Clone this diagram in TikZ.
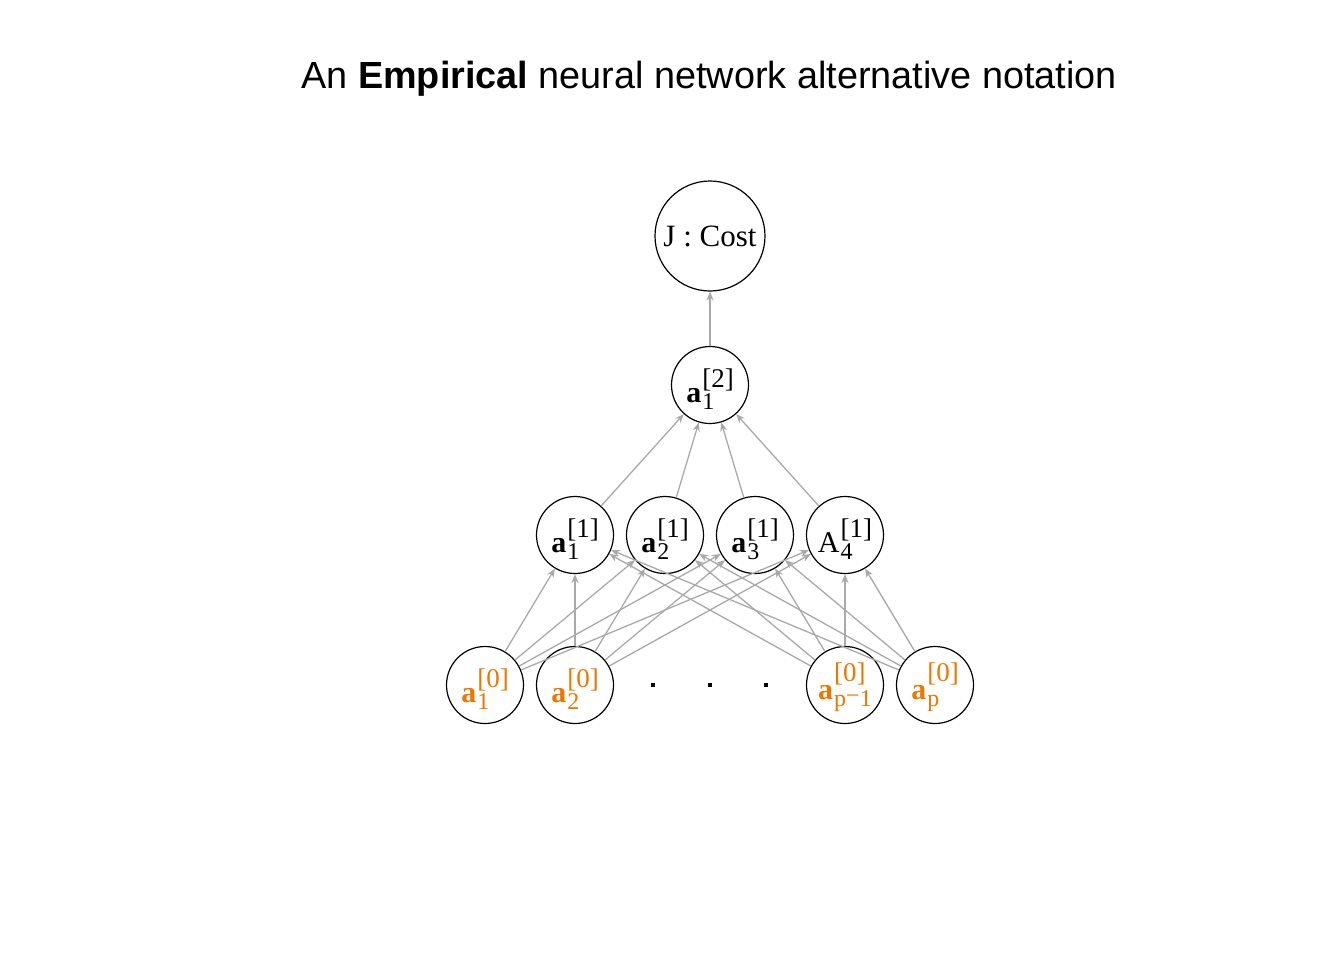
\documentclass[tikz,border=0pt]{standalone}
\usepackage{fontspec}
\setmainfont{Liberation Serif}
\newfontfamily\titlefont{Liberation Sans}
\usetikzlibrary{arrows.meta}
\definecolor{inorange}{RGB}{238,118,0}
\definecolor{edgegray}{RGB}{169,169,169}
% #1 base shift, #2 sup raise, #3 main, #4 sup, #5 sub
\newcommand{\genlab}[5]{\raisebox{#1}[18pt][1pt]{#3\kern0.5pt\vtop{\baselineskip0pt\lineskiplimit-\maxdimen\lineskip0pt\ialign{##\hfil\crcr\raisebox{#2}{\fontsize{13.5}{15}\selectfont #4}\crcr\raisebox{-3.5pt}{\fontsize{12}{14}\selectfont #5}\crcr}}}}
\newcommand{\nlab}[3]{\genlab{0pt}{7.5pt}{#1}{#2}{#3}}
\newcommand{\nlabp}[3]{\genlab{1.5pt}{9pt}{#1}{#2}{#3}}
\begin{document}
\begin{tikzpicture}[x=0.5pt,y=-0.5pt,
  neuron/.style={circle,draw=black,line width=0.6pt,minimum size=38.5pt,inner sep=0pt,font=\fontsize{15}{17}\selectfont},
  costnode/.style={circle,draw=black,line width=0.6pt,minimum size=55pt,inner sep=0pt,font=\fontsize{15.5}{17}\selectfont},
  inneuron/.style={neuron,text=inorange},
  edge/.style={draw=edgegray,line width=0.65pt,-{Stealth[length=4.5pt,width=3.6pt]}},
  dotmark/.style={rectangle,fill=black,inner sep=0pt,minimum size=2pt}]
\useasboundingbox (0,0) rectangle (1344,960);
\node[anchor=base,font=\titlefont\fontsize{18.9}{21}\selectfont] (title) at (709,88) {An \textbf{Empirical} neural network alternative notation};
% nodes
\node[costnode] (J) at (710,236) {\raisebox{-2pt}{J : Cost}};
\node[neuron] (o) at (710,385) {\nlab{\textbf{a}}{[2]}{1}};
\node[neuron] (h1) at (575,535) {\nlab{\textbf{a}}{[1]}{1}};
\node[neuron] (h2) at (665,535) {\nlab{\textbf{a}}{[1]}{2}};
\node[neuron] (h3) at (755,535) {\nlab{\textbf{a}}{[1]}{3}};
\node[neuron] (h4) at (845,535) {\nlab{A}{[1]}{4}};
\node[inneuron] (i1) at (485,685) {\nlab{\textbf{a}}{[0]}{1}};
\node[inneuron] (i2) at (575,685) {\nlab{\textbf{a}}{[0]}{2}};
\node[inneuron] (i3) at (845,685) {\nlabp{\textbf{a}}{[0]}{p\raisebox{0.1em}{−}1}};
\node[inneuron] (i4) at (935,685) {\nlabp{\textbf{a}}{[0]}{p}};
\node[dotmark] (d1) at (653,685) {};
\node[dotmark] (d2) at (710,685) {};
\node[dotmark] (d3) at (766,685) {};
% edges
\foreach \i in {i1,i2,i3,i4}{
  \foreach \h in {h1,h2,h3,h4}{
    \draw[edge] (\i) -- (\h);
  }
}
\foreach \h in {h1,h2,h3,h4}{
  \draw[edge] (\h) -- (o);
}
\draw[edge] (o) -- (J);
\end{tikzpicture}
\end{document}
